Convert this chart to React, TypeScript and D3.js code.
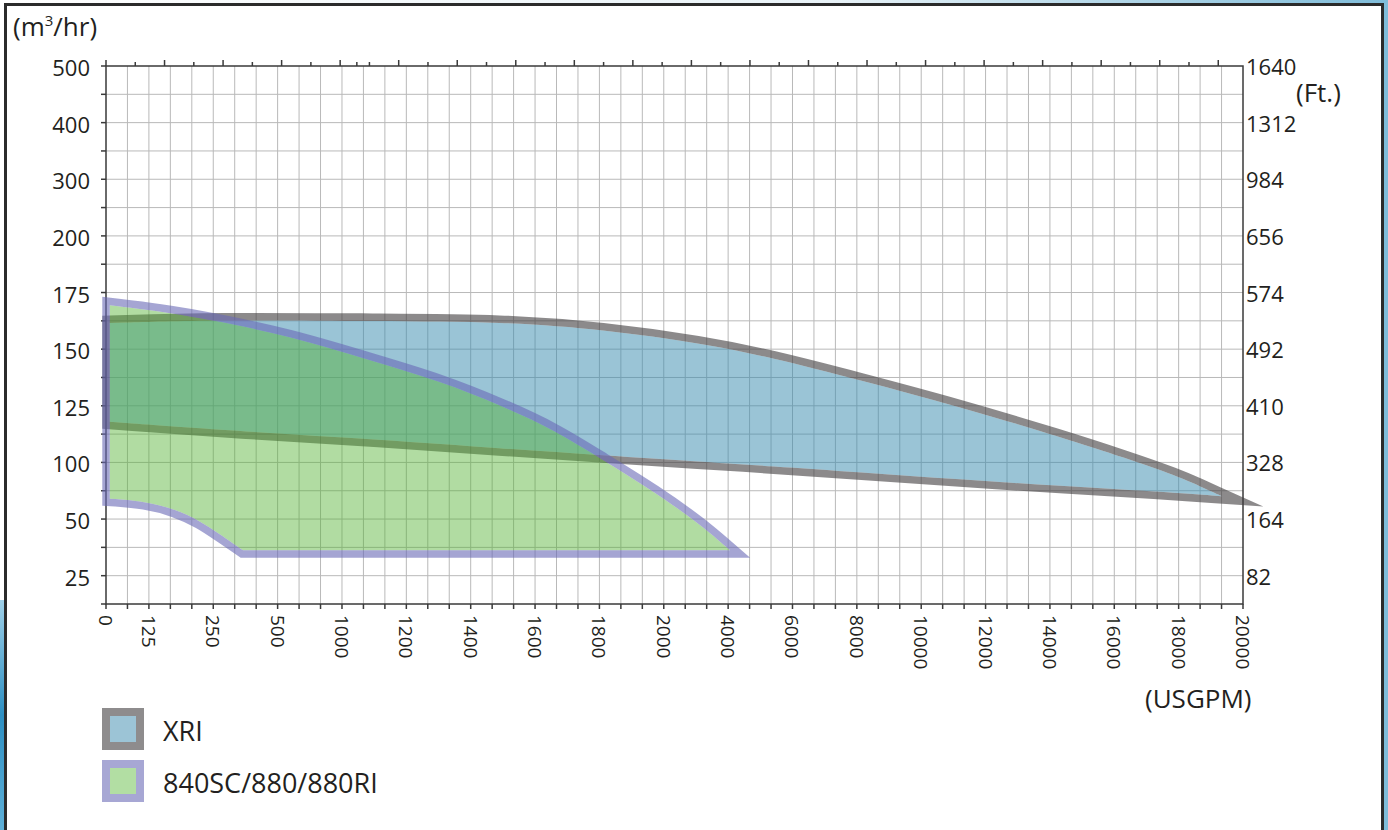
import React from 'react';
import * as d3 from 'd3';

// ---------- data ----------
// Bottom axis (USGPM) categories, drawn equally spaced
const xTickValues = [0, 125, 250, 500, 1000, 1200, 1400, 1600, 1800, 2000, 4000, 6000, 8000, 10000, 12000, 14000, 16000, 18000, 20000];
// Left axis (m3/hr) tick labels, top to bottom
const yTickValues = [500, 400, 300, 200, 175, 150, 125, 100, 50, 25];
// Right axis (Ft.) labels matching the left ticks
const yRightLabels = [1640, 1312, 984, 656, 574, 492, 410, 328, 164, 82];
const yBottomValue = 12.5;

// XRI envelope [flow, head]
const xriUpper = [
  [11, 161.5], [250, 163], [1118, 162.4], [1500, 162.1], [1811, 158.7], [3220, 152.5],
  [5307, 146.5], [8100, 136.3], [11207, 124.5], [14320, 111.3], [16400, 101.7], [17953, 88],
  [18660, 79], [19347, 70.2],
];
const xriLower = [
  [11, 117.9], [381, 113.5], [1118, 110.1], [1500, 106.1], [1811, 103.1], [3220, 100.3],
  [5307, 96.7], [8100, 91.3], [11207, 85], [14320, 79.2], [17427, 74], [19347, 70.2],
];

// 840SC/880/880RI envelope [flow, head]
const greenUpper = [
  [11, 169.4], [146.5, 166.8], [250, 162.8], [596, 155.7], [1087, 145.1], [1305, 135.9],
  [1500, 124.8], [1662, 114.2], [1811, 101], [1973, 73.7], [3127, 47.7], [4060, 36.2],
];
const greenLowerCurve = [
  [11, 68], [113.6, 65.7], [175.7, 58.7], [224.3, 49.2], [276, 43.2], [365.6, 36.2],
];

const topTickSteps = d3.range(0, 39);
const topExtraTicks = [8.57];

const legendItems = [
  { label: 'XRI', fill: '#9cc4d6', stroke: '#8e8c8d' },
  { label: '840SC/880/880RI', fill: '#b2dea3', stroke: '#a7a7d4' },
];

// ---------- layout ----------
const W = 1388;
const H = 830;
const P = { left: 106, top: 66, right: 1243, bottom: 604 };
const nCols = 53;
const nRows = 19;
const colW = (P.right - P.left) / nCols;
const rowH = (P.bottom - P.top) / nRows;
const FONT = "'Open Sans', 'Noto Sans', sans-serif";

const xScale = d3
  .scaleLinear()
  .domain(xTickValues)
  .range(xTickValues.map((_, i) => P.left + colW * (i === 0 ? 0 : 3 * i - 1)));

const yScale = d3
  .scaleLinear()
  .domain([...yTickValues, yBottomValue])
  .range([...yTickValues.map((_, i) => P.top + rowH * 2 * i), P.bottom]);

const topTickScale = d3.scaleLinear().domain([0, 38]).range([P.left, P.left + 38 * 29.27]);

const curved = d3
  .line<number[]>()
  .x((d) => xScale(d[0]))
  .y((d) => yScale(d[1]))
  .curve(d3.curveBasis);
const straight = d3
  .line<number[]>()
  .x((d) => xScale(d[0]))
  .y((d) => yScale(d[1]));

const joinParts = (...parts: string[]) =>
  parts.map((p, i) => (i === 0 ? p : 'L' + p.slice(1))).join('') + 'Z';

const xriPath = joinParts(curved(xriUpper) as string, curved([...xriLower].reverse()) as string);
const greenPath = joinParts(
  curved(greenUpper) as string,
  straight([greenUpper[greenUpper.length - 1], greenLowerCurve[greenLowerCurve.length - 1]]) as string,
  curved([...greenLowerCurve].reverse()) as string
);

const shapes = [
  { id: 'xri', d: xriPath, fill: 'rgba(53,137,173,0.5)', stroke: 'rgba(63,60,62,0.6)' },
  { id: 'green', d: greenPath, fill: 'rgba(82,177,48,0.45)', stroke: 'rgba(105,105,182,0.6)' },
];

export default function App() {
  const gridColor = '#b9b9b9';
  const axisColor = '#3a3a3a';
  return (
    <svg
      width={W}
      height={H}
      viewBox={`0 0 ${W} ${H}`}
      style={{ position: 'absolute', left: 0, top: 0, display: 'block' }}
      fontFamily={FONT}
    >
      <defs>
        <linearGradient id="bg" x1="0" x2="1" y1="0" y2="0">
          <stop offset="0" stopColor="#ffffff" />
          <stop offset="0.6" stopColor="#e8f2f7" />
          <stop offset="1" stopColor="#7fbcd9" />
        </linearGradient>
        <linearGradient id="water" x1="0" x2="0" y1="0" y2="1">
          <stop offset="0" stopColor="#9fd0e8" />
          <stop offset="0.5" stopColor="#2d8fc2" />
          <stop offset="1" stopColor="#5fb0d8" />
        </linearGradient>
        {shapes.map((s) => (
          <mask key={s.id} id={`mask-${s.id}`} maskUnits="userSpaceOnUse" x={0} y={0} width={W} height={H}>
            <rect x={0} y={0} width={W} height={H} fill="white" />
            <path d={s.d} fill="black" />
          </mask>
        ))}
      </defs>

      {/* background & frame */}
      <rect x={0} y={0} width={W} height={H} fill="url(#bg)" />
      <rect x={0} y={600} width={6} height={H - 600} fill="url(#water)" />
      <rect x={5.5} y={4.5} width={1377} height={H + 10} fill="#ffffff" stroke="#2b2b2b" strokeWidth={3} />

      {/* grid */}
      <g stroke={gridColor} strokeWidth={1}>
        {d3.range(1, nCols).map((c) => (
          <line key={`vc${c}`} x1={P.left + c * colW} x2={P.left + c * colW} y1={P.top} y2={P.bottom} />
        ))}
        {d3.range(1, nRows).map((r) => (
          <line key={`hr${r}`} x1={P.left} x2={P.right} y1={P.top + r * rowH} y2={P.top + r * rowH} />
        ))}
      </g>

      {/* axes frame and ticks */}
      <g stroke={axisColor} strokeWidth={1.5} fill="none">
        <rect x={P.left} y={P.top} width={P.right - P.left} height={P.bottom - P.top} />
        {d3.range(0, nCols + 1).map((c) => (
          <line key={`bt${c}`} x1={P.left + c * colW} x2={P.left + c * colW} y1={P.bottom} y2={P.bottom + 5} />
        ))}
        {d3.range(0, nRows + 1).map((r) => (
          <line key={`lt${r}`} x1={P.left - 5} x2={P.left} y1={P.top + r * rowH} y2={P.top + r * rowH} />
        ))}
        {topTickSteps.map((k) => (
          <line
            key={`tt${k}`}
            x1={topTickScale(k)}
            x2={topTickScale(k)}
            y1={P.top}
            y2={P.top - (k % 2 === 0 ? 6 : 4)}
          />
        ))}
        {topExtraTicks.map((k) => (
          <line key={`te${k}`} x1={topTickScale(k)} x2={topTickScale(k)} y1={P.top} y2={P.top - 4} />
        ))}
      </g>

      {/* envelopes */}
      {shapes.map((s) => (
        <g key={s.id}>
          <path d={s.d} fill={s.fill} stroke="none" />
          <path
            d={s.d}
            fill="none"
            stroke={s.stroke}
            strokeWidth={15}
            strokeLinejoin="miter"
            strokeMiterlimit={8}
            mask={`url(#mask-${s.id})`}
          />
        </g>
      ))}

      {/* left / right tick labels */}
      <g fontSize={22} fill="#231f20">
        {yTickValues.map((v) => (
          <text key={`yl${v}`} x={90} y={yScale(v) + 1} textAnchor="end" dominantBaseline="central">
            {v}
          </text>
        ))}
        {yTickValues.map((v, i) => (
          <text key={`yr${v}`} x={1246} y={yScale(v)} textAnchor="start" dominantBaseline="central">
            {yRightLabels[i]}
          </text>
        ))}
      </g>

      {/* bottom tick labels (rotated) */}
      <g fontSize={19} fill="#231f20">
        {xTickValues.map((v) => (
          <text
            key={`xl${v}`}
            transform={`translate(${xScale(v)},${P.bottom + 11}) rotate(90)`}
            textAnchor="start"
            dominantBaseline="central"
          >
            {v}
          </text>
        ))}
      </g>

      {/* axis unit labels */}
      <g fontSize={26} fill="#231f20">
        <text x={13} y={36}>
          (m<tspan fontSize={15} dy={-10}>3</tspan>
          <tspan dy={10}>/hr)</tspan>
        </text>
        <text x={1296} y={102}>(Ft.)</text>
        <text x={1145} y={708}>(USGPM)</text>
      </g>

      {/* legend */}
      <g>
        {legendItems.map((item, i) => (
          <g key={item.label} transform={`translate(106,${712 + i * 52})`}>
            <rect x={0} y={0} width={34} height={34} fill={item.fill} stroke={item.stroke} strokeWidth={8} />
            <text x={57} y={29} fontSize={27} fill="#231f20">
              {item.label}
            </text>
          </g>
        ))}
      </g>
    </svg>
  );
}
